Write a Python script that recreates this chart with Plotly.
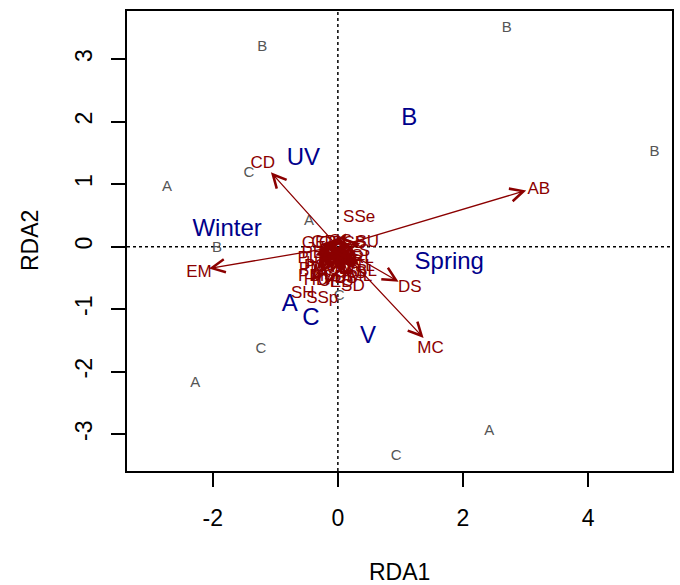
import plotly.graph_objects as go

# --- Site scores (grey letters) ---
site_labels = ["B", "B", "B", "A", "C", "A", "B", "C", "C", "A", "A", "C"]
site_x = [-1.21, 2.70, 5.06, -2.73, -1.42, -0.46, -1.93, 0.02, -1.23, -2.28, 2.42, 0.93]
site_y = [3.19, 3.50, 1.51, 0.95, 1.17, 0.40, -0.03, -0.79, -1.64, -2.18, -2.95, -3.35]

# --- Factor centroids (blue) ---
cent_labels = ["UV", "B", "Winter", "Spring", "A", "C", "V"]
cent_x = [-0.55, 1.14, -1.77, 1.78, -0.77, -0.43, 0.48]
cent_y = [1.41, 2.04, 0.26, -0.26, -0.94, -1.16, -1.45]

# --- Species arrows (red) : arrow tips and label positions ---
sp_labels = ["CD", "AB", "EM", "DS", "MC", "SSe", "SH", "SSp", "HD", "DP",
             "GE", "SU", "BL", "GD", "CS", "SB", "PL", "PM", "TL", "FL",
             "CL", "RS", "AS", "MS", "BS", "TS", "LS", "HS", "PD", "ED",
             "PS", "RL", "GS", "CP", "TD", "ML", "GB", "SD", "PB", "HL"]
sp_x = [-1.07, 3.01, -2.06, 0.97, 1.37, 0.13, -0.42, -0.18, -0.28, 0.10,
        -0.28, 0.36, 0.34, -0.16, 0.03, 0.20, -0.36, -0.32, 0.32, 0.10,
        0.00, -0.10, 0.20, -0.18, 0.10, -0.05, 0.26, -0.24, -0.34, 0.05,
        -0.27, 0.30, 0.15, -0.10, 0.06, 0.27, -0.08, 0.18, -0.30, 0.14]
sp_y = [1.19, 0.90, -0.35, -0.56, -1.46, 0.21, -0.55, -0.62, -0.42, -0.38,
        0.04, 0.05, -0.30, 0.05, 0.06, 0.04, -0.14, -0.28, -0.24, -0.18,
        -0.28, -0.10, -0.33, -0.36, -0.38, -0.20, -0.06, -0.20, -0.36, -0.44,
        -0.24, -0.14, -0.12, -0.42, -0.26, -0.36, 0.03, -0.48, -0.08, -0.20]
lab_x = [-1.20, 3.21, -2.22, 1.15, 1.48, 0.34, -0.56, -0.25, -0.35, 0.13,
         -0.38, 0.47, 0.46, -0.22, 0.04, 0.27, -0.48, -0.42, 0.43, 0.13,
         0.00, -0.13, 0.27, -0.24, 0.13, -0.06, 0.35, -0.32, -0.45, 0.06,
         -0.36, 0.40, 0.20, -0.13, 0.08, 0.36, -0.11, 0.24, -0.40, 0.19]
lab_y = [1.33, 0.91, -0.42, -0.66, -1.64, 0.47, -0.75, -0.84, -0.55, -0.50,
         0.05, 0.06, -0.40, 0.07, 0.08, 0.05, -0.19, -0.37, -0.32, -0.24,
         -0.37, -0.13, -0.44, -0.48, -0.51, -0.27, -0.08, -0.27, -0.48, -0.58,
         -0.32, -0.19, -0.16, -0.56, -0.35, -0.48, 0.04, -0.64, -0.11, -0.27]

x_ticks = [-2, 0, 2, 4]
y_ticks = [-3, -2, -1, 0, 1, 2, 3]
x_range = [-3.37, 5.34]
y_range = [-3.59, 3.77]

RED = "#8B0000"
BLUE = "#00008B"
FONT = "Liberation Sans, Arial, Helvetica, sans-serif"

fig = go.Figure()

fig.add_trace(go.Scatter(
    x=site_x, y=site_y, mode="text", text=site_labels,
    textfont=dict(family=FONT, size=15, color="#555555"),
    hoverinfo="skip", showlegend=False))

fig.add_trace(go.Scatter(
    x=lab_x, y=lab_y, mode="text", text=sp_labels,
    textfont=dict(family=FONT, size=17, color=RED),
    hoverinfo="skip", showlegend=False))

fig.add_trace(go.Scatter(
    x=cent_x, y=cent_y, mode="text", text=cent_labels,
    textfont=dict(family=FONT, size=24, color=BLUE),
    hoverinfo="skip", showlegend=False))

annotations = []
for tx, ty in zip(sp_x, sp_y):
    annotations.append(dict(
        x=tx, y=ty, ax=0, ay=0, xref="x", yref="y", axref="x", ayref="y",
        text="", showarrow=True, arrowhead=5, arrowsize=2.0, arrowwidth=1.3,
        arrowcolor=RED, standoff=0, startstandoff=0))

annotations.append(dict(
    text="RDA1", xref="paper", yref="paper", x=0.5, y=0, yshift=-101,
    xanchor="center", yanchor="middle", showarrow=False,
    font=dict(family=FONT, size=23, color="black")))
annotations.append(dict(
    text="RDA2", xref="paper", yref="paper", x=0, y=0.5, xshift=-97,
    xanchor="center", yanchor="middle", showarrow=False, textangle=-90,
    font=dict(family=FONT, size=23, color="black")))

shapes = [
    dict(type="line", xref="x", yref="paper", x0=0, x1=0, y0=0, y1=1,
         line=dict(color="black", width=1.5, dash="dot"), layer="below"),
    dict(type="line", xref="paper", yref="y", x0=0, x1=1, y0=0, y1=0,
         line=dict(color="black", width=1.5, dash="dot"), layer="below"),
]

fig.update_layout(
    width=680, height=585,
    margin=dict(l=127, r=6, t=11, b=114),
    paper_bgcolor="white", plot_bgcolor="white",
    font=dict(family=FONT, color="black"),
    annotations=annotations, shapes=shapes,
    xaxis=dict(range=x_range, tickvals=x_ticks, ticktext=[str(v) for v in x_ticks],
               showgrid=False, zeroline=False, showline=True, linecolor="black",
               linewidth=1.5, mirror=True, ticks="outside", ticklen=14,
               tickwidth=1.5, tickcolor="black", ticklabelstandoff=12,
               tickfont=dict(family=FONT, size=23, color="black")),
    yaxis=dict(range=y_range, tickvals=y_ticks, ticktext=[str(v) for v in y_ticks],
               showgrid=False, zeroline=False, showline=True, linecolor="black",
               linewidth=1.5, mirror=True, ticks="outside", ticklen=14,
               tickwidth=1.5, tickcolor="black", tickangle=-90,
               ticklabelstandoff=10,
               tickfont=dict(family=FONT, size=23, color="black")),
)

fig.write_html("out.html")
